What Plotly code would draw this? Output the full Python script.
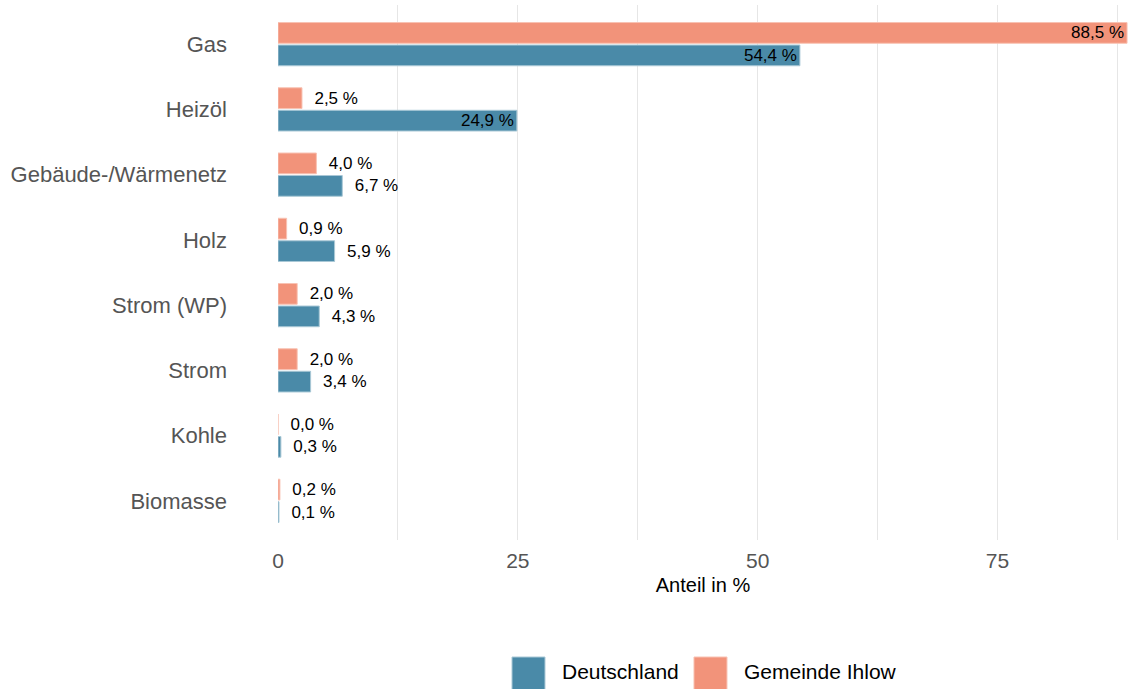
import plotly.graph_objects as go

categories = ["Gas", "Heizöl", "Gebäude-/Wärmenetz", "Holz", "Strom (WP)", "Strom", "Kohle", "Biomasse"]
deutschland = [54.4, 24.9, 6.7, 5.9, 4.3, 3.4, 0.3, 0.1]
ihlow = [88.5, 2.5, 4.0, 0.9, 2.0, 2.0, 0.0, 0.2]

blue = "#4a8aa8"
salmon = "#f2937a"
font = "Liberation Sans, Arial"


def fmt(v):
    return f"{v:.1f} %".replace(".", ",")


def positions(values):
    # big bars carry their label inside, the rest outside
    return ["inside" if v > 20 else "outside" for v in values]


def labels(values):
    return [fmt(v) if v > 20 else "  " + fmt(v) for v in values]


fig = go.Figure()

fig.add_trace(go.Bar(
    y=categories,
    x=ihlow,
    orientation="h",
    name="Gemeinde Ihlow",
    marker=dict(color=salmon, line=dict(color="#f8c2b3", width=1)),
    text=labels(ihlow),
    textposition=positions(ihlow),
    insidetextanchor="end",
    textfont=dict(color="black", size=17, family=font),
    cliponaxis=False,
    showlegend=False,
))

fig.add_trace(go.Bar(
    y=categories,
    x=deutschland,
    orientation="h",
    name="Deutschland",
    marker=dict(color=blue, line=dict(color="#a9c8d6", width=1)),
    text=labels(deutschland),
    textposition=positions(deutschland),
    insidetextanchor="end",
    textfont=dict(color="black", size=17, family=font),
    cliponaxis=False,
    showlegend=False,
))

# legend drawn by hand so the keys can be big squares
legend_items = [("Deutschland", blue, "#a9c8d6", 0.2753), ("Gemeinde Ihlow", salmon, "#f8c2b3", 0.4894)]
for name, color, edge, x0 in legend_items:
    fig.add_shape(type="rect", xref="paper", yref="paper",
                  x0=x0, x1=x0 + 0.0388, y0=-0.2804, y1=-0.2187,
                  fillcolor=color, line=dict(color=edge, width=1))
    fig.add_annotation(xref="paper", yref="paper", x=x0 + 0.0565, y=-0.2467,
                       text=name, showarrow=False, xanchor="left", yanchor="middle",
                       font=dict(size=21, color="black", family=font))

fig.update_layout(
    width=1133,
    height=689,
    barmode="group",
    bargap=0.31,
    bargroupgap=0.08,
    plot_bgcolor="white",
    paper_bgcolor="white",
    margin=dict(l=278, r=5, t=5, b=149, autoexpand=False),
    font=dict(family=font, color="#555"),
    uniformtext=dict(mode="show", minsize=17),
    showlegend=False,
    xaxis=dict(
        range=[0, 88.6],
        tickvals=[0, 25, 50, 75],
        showgrid=True,
        gridcolor="#e6e6e6",
        gridwidth=1.3,
        minor=dict(tickvals=[12.5, 37.5, 62.5, 87.5], showgrid=True, gridcolor="#e6e6e6", gridwidth=1.3),
        zeroline=False,
        tickfont=dict(size=21, color="#555"),
        ticklabelstandoff=6,
        title=dict(text="Anteil in %", font=dict(size=20, color="black"), standoff=6),
        automargin=False,
        fixedrange=True,
    ),
    yaxis=dict(
        categoryorder="array",
        categoryarray=categories,
        range=[7.6, -0.6],
        showgrid=False,
        tickfont=dict(size=22, color="#555"),
        ticklabelstandoff=50,
        automargin=False,
        fixedrange=True,
    ),
)

# drop the default page margin so the figure sits at the window corner
fig.write_html("out.html", config={"displayModeBar": False},
               post_script="document.body.style.margin='0';")
